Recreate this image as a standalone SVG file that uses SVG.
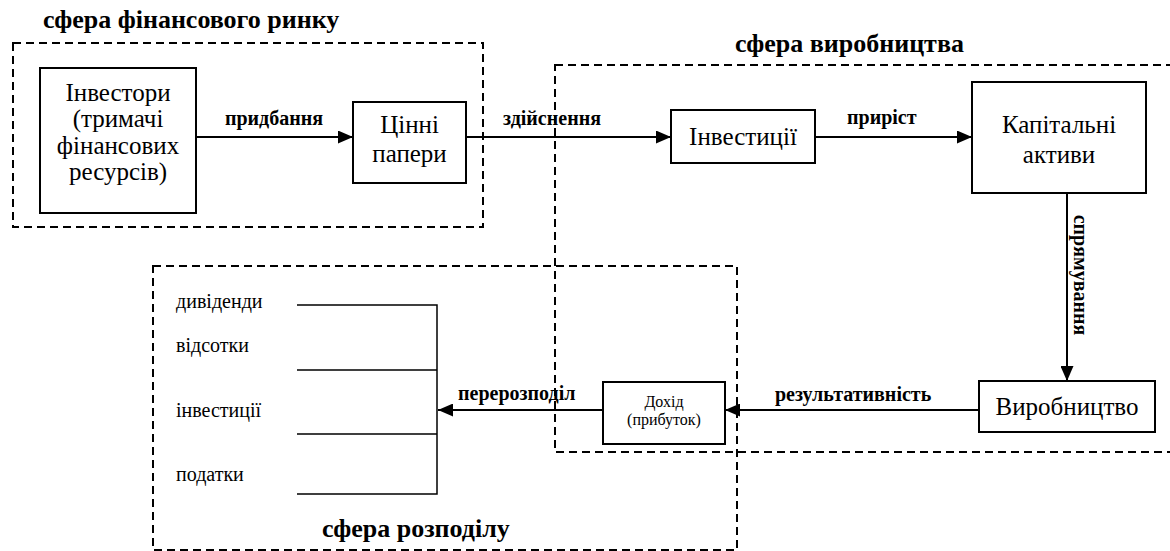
<svg xmlns="http://www.w3.org/2000/svg" width="1170" height="551" viewBox="0 0 1170 551" font-family="'Liberation Serif', 'DejaVu Serif', serif">
<style>
.box{fill:#fff;stroke:#000;stroke-width:2}
.zone{fill:none;stroke:#000;stroke-width:2;stroke-dasharray:8 5}
.title{font-weight:bold;font-size:26px}
.lbl{font-weight:bold;font-size:20px}
.node{font-size:25px;text-anchor:middle}
.small{font-size:16px;text-anchor:middle}
.item{font-size:20px}
.conn{stroke:#000;stroke-width:2;fill:none}
.thin{stroke:#000;stroke-width:1.5;fill:none}
</style>
<defs>
<marker id="ah" markerUnits="userSpaceOnUse" markerWidth="15" markerHeight="13" refX="15" refY="6.5" orient="auto">
<path d="M0,0 L15,6.5 L0,13 z" fill="#000"/>
</marker>
</defs>
<rect width="1170" height="551" fill="#fff"/>
<g id="zones">
<rect class="zone" x="13" y="43" width="470" height="184"/>
<rect class="zone" x="555" y="65" width="630" height="387"/>
<rect class="zone" x="153" y="266" width="584" height="284"/>
<text class="title" x="43" y="28">сфера фінансового ринку</text>
<text class="title" x="735" y="52">сфера виробництва</text>
<text class="title" x="322" y="537">сфера розподілу</text>
</g>
<g id="connectors">
<line class="conn" x1="196" y1="137" x2="353" y2="137" marker-end="url(#ah)"/>
<line class="conn" x1="466" y1="137" x2="671" y2="137" marker-end="url(#ah)"/>
<line class="conn" x1="815" y1="137" x2="972" y2="137" marker-end="url(#ah)"/>
<line class="conn" x1="1067" y1="193" x2="1067" y2="381" marker-end="url(#ah)"/>
<line class="conn" x1="979" y1="410" x2="725" y2="410" marker-end="url(#ah)"/>
<line class="conn" x1="603" y1="410" x2="438" y2="410" marker-end="url(#ah)"/>
<text class="lbl" x="274" y="125" text-anchor="middle">придбання</text>
<text class="lbl" x="503" y="125">здійснення</text>
<text class="lbl" x="847" y="124">приріст</text>
<text class="lbl" x="1074" y="275" text-anchor="middle" transform="rotate(90 1074 275)">спрямування</text>
<text class="lbl" x="775" y="401">результативність</text>
<text class="lbl" x="458" y="400">перерозподіл</text>
</g>
<g id="investors">
<rect class="box" x="40" y="68" width="156" height="145"/>
<text class="node" x="118" y="101">Інвестори</text>
<text class="node" x="118" y="127">(тримачі</text>
<text class="node" x="118" y="154">фінансових</text>
<text class="node" x="118" y="180">ресурсів)</text>
</g>
<g id="securities">
<rect class="box" x="353" y="102" width="113" height="81"/>
<text class="node" x="409.5" y="133">Цінні</text>
<text class="node" x="409.5" y="162">папери</text>
</g>
<g id="investments">
<rect class="box" x="671" y="110" width="144" height="53"/>
<text class="node" x="743" y="145">Інвестиції</text>
</g>
<g id="capital">
<rect class="box" x="972" y="82" width="174" height="111"/>
<text class="node" x="1059" y="133">Капітальні</text>
<text class="node" x="1059" y="163">активи</text>
</g>
<g id="production">
<rect class="box" x="979" y="381" width="176" height="51"/>
<text class="node" x="1067" y="415">Виробництво</text>
</g>
<g id="income">
<rect class="box" x="603" y="382" width="122" height="62"/>
<text class="small" x="664" y="407">Дохід</text>
<text class="small" x="664" y="425">(прибуток)</text>
</g>
<g id="distribution">
<path class="thin" d="M297,305 H437 V494 H297 M297,370 H437 M297,434 H437"/>
<text class="item" x="176" y="308">дивіденди</text>
<text class="item" x="176" y="352">відсотки</text>
<text class="item" x="176" y="417">інвестиції</text>
<text class="item" x="176" y="481">податки</text>
</g>
</svg>
